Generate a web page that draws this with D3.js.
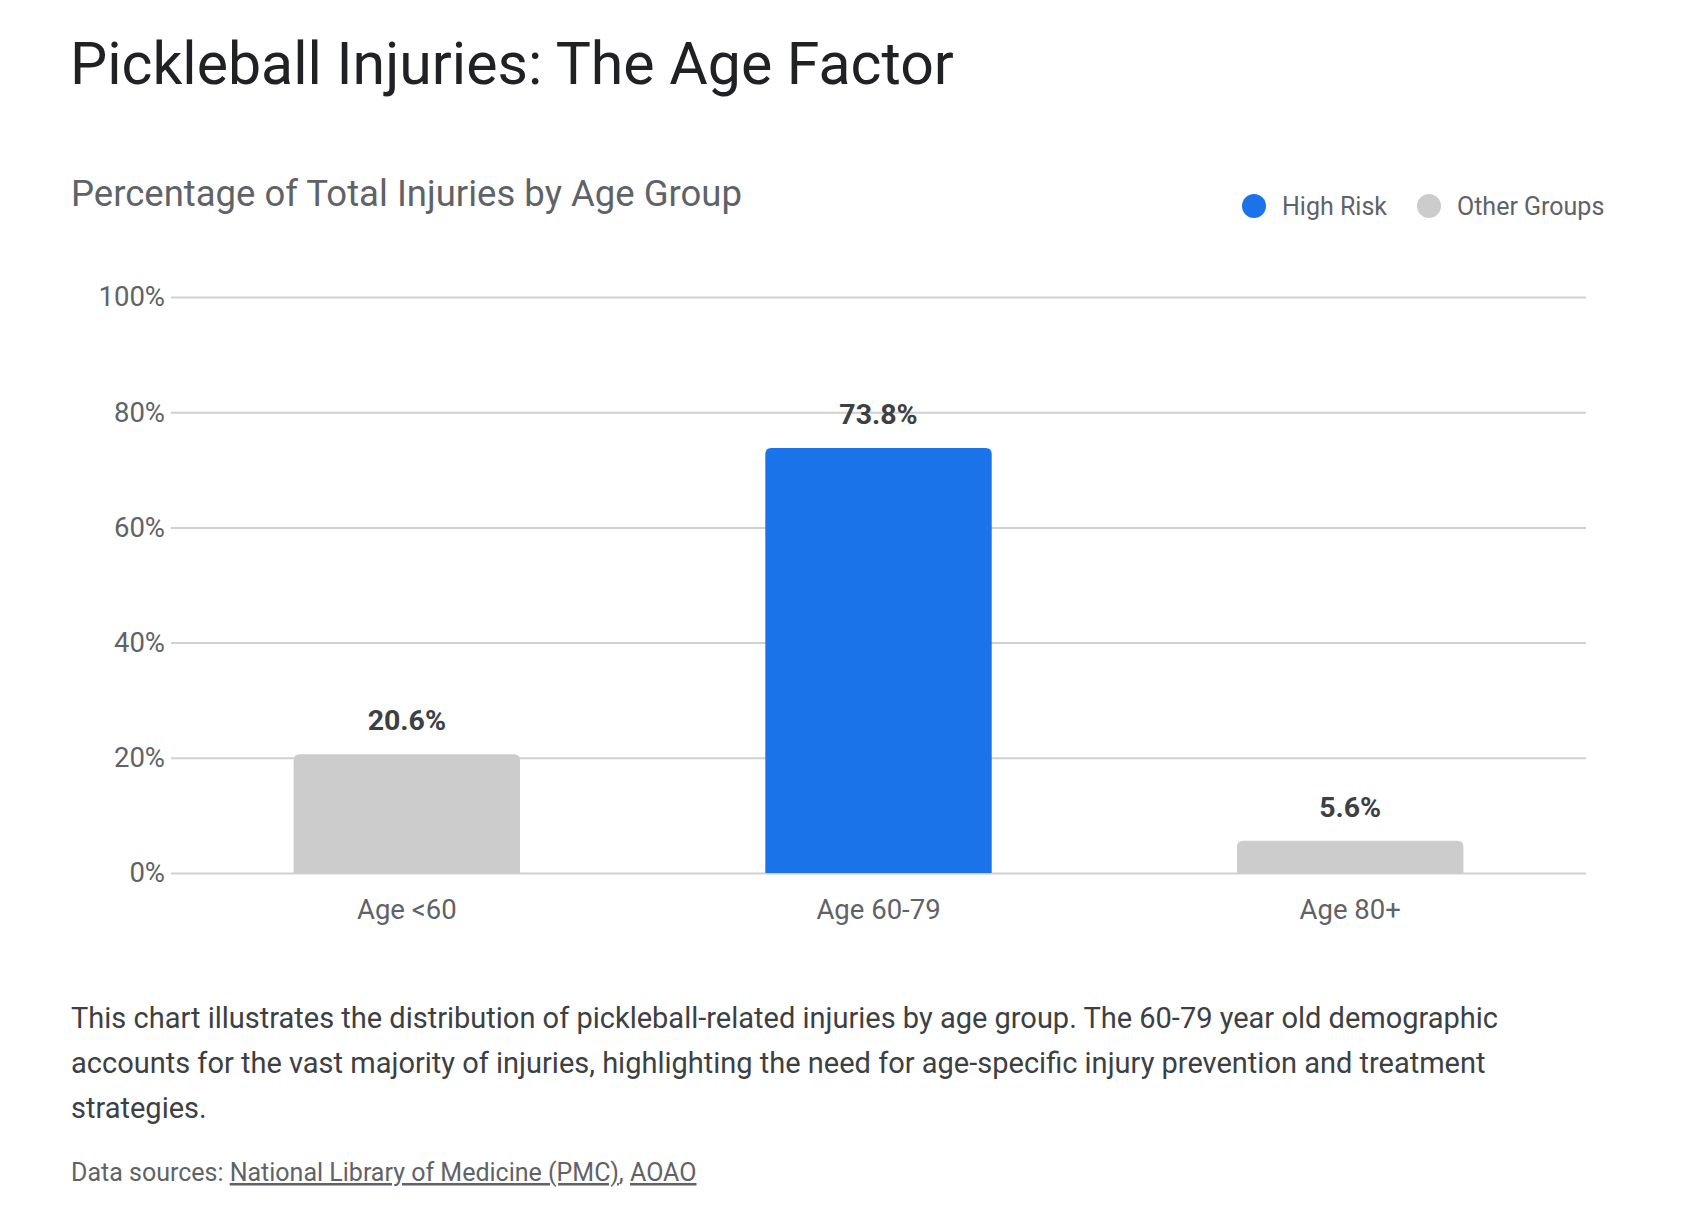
<!DOCTYPE html>
<html>
<head>
<meta charset="utf-8">
<script src="https://cdn.jsdelivr.net/npm/d3@7"></script>
<style>
  body { margin: 0; background: #ffffff; }
  svg text { font-family: Roboto, "Open Sans", sans-serif; }
</style>
</head>
<body>
<div id="chart"></div>
<script>
// chart data
var categories = ["Age <60", "Age 60-79", "Age 80+"];
var values = [20.6, 73.8, 5.6];
var groups = ["Other Groups", "High Risk", "Other Groups"];
var yTicks = [0, 20, 40, 60, 80, 100];
var legendItems = ["High Risk", "Other Groups"];

var colors = {"High Risk": "#1a73e8", "Other Groups": "#cccccc"};

var W = 1706, H = 1219;
var margin = {top: 297, right: 120, bottom: 346, left: 171};
var width = W - margin.left - margin.right;
var height = H - margin.top - margin.bottom;

var svg = d3.select("#chart").append("svg")
    .attr("width", W)
    .attr("height", H);

// titles
svg.append("text")
    .attr("x", 70).attr("y", 84)
    .attr("font-size", 59)
    .attr("fill", "#202124")
    .text("Pickleball Injuries: The Age Factor");

svg.append("text")
    .attr("x", 71).attr("y", 206)
    .attr("font-size", 36.5)
    .attr("fill", "#5f6368")
    .text("Percentage of Total Injuries by Age Group");

// legend
var legend = svg.append("g").attr("transform", "translate(1254,206)");
var lx = 0;
legendItems.forEach(function(name, i) {
  var item = legend.append("g").attr("transform", "translate(" + lx + ",0)");
  item.append("circle").attr("r", 12).attr("fill", colors[name]);
  var t = item.append("text")
      .attr("x", 28).attr("y", 8.5)
      .attr("font-size", 25)
      .attr("fill", "#5f6368")
      .text(name);
  lx += 28 + t.node().getComputedTextLength() + 42;
});

var g = svg.append("g")
    .attr("transform", "translate(" + margin.left + "," + margin.top + ")");

var x = d3.scaleBand().domain(categories).range([0, width])
    .paddingInner(0.52).paddingOuter(0.26);
var y = d3.scaleLinear().domain([0, 100]).range([height, 0]);

// gridlines + y labels
var yAxis = g.append("g")
    .call(d3.axisLeft(y).tickValues(yTicks).tickSize(-width).tickPadding(6)
      .tickFormat(function(d) { return d + "%"; }));
yAxis.select(".domain").remove();
yAxis.selectAll(".tick line").attr("stroke", "#d0d0d0").attr("stroke-width", 2);
yAxis.selectAll(".tick text")
    .attr("font-size", 27.5)
    .attr("fill", "#5f6368")
    .attr("font-family", "Roboto, sans-serif");

// bars with rounded top corners
var r = 6;
function barPath(d, i) {
  var x0 = x(categories[i]), bw = x.bandwidth();
  var y0 = y(d), y1 = y(0);
  return "M" + x0 + "," + y1 +
    "V" + (y0 + r) +
    "Q" + x0 + "," + y0 + " " + (x0 + r) + "," + y0 +
    "H" + (x0 + bw - r) +
    "Q" + (x0 + bw) + "," + y0 + " " + (x0 + bw) + "," + (y0 + r) +
    "V" + y1 + "Z";
}
g.selectAll(".bar").data(values).enter().append("path")
    .attr("class", "bar")
    .attr("d", barPath)
    .attr("fill", function(d, i) { return colors[groups[i]]; });

// value labels
g.selectAll(".val").data(values).enter().append("text")
    .attr("class", "val")
    .attr("x", function(d, i) { return x(categories[i]) + x.bandwidth() / 2; })
    .attr("y", function(d) { return y(d) - 24; })
    .attr("text-anchor", "middle")
    .attr("font-size", 28.5)
    .attr("font-weight", 700)
    .attr("fill", "#3c4043")
    .text(function(d) { return d + "%"; });

// x axis labels
var xAxis = g.append("g")
    .attr("transform", "translate(0," + height + ")")
    .call(d3.axisBottom(x).tickSize(0).tickPadding(26));
xAxis.select(".domain").remove();
xAxis.selectAll(".tick text")
    .attr("font-size", 27.5)
    .attr("fill", "#5f6368")
    .attr("font-family", "Roboto, sans-serif");

// description
var desc = [
  "This chart illustrates the distribution of pickleball-related injuries by age group. The 60-79 year old demographic",
  "accounts for the vast majority of injuries, highlighting the need for age-specific injury prevention and treatment",
  "strategies."
];
svg.append("g").selectAll("text").data(desc).enter().append("text")
    .attr("x", 71)
    .attr("y", function(d, i) { return 1028 + i * 44.8; })
    .attr("font-size", 29)
    .attr("fill", "#3c4043")
    .text(function(d) { return d; });

// sources
var src = svg.append("text")
    .attr("x", 71).attr("y", 1181)
    .attr("font-size", 25)
    .attr("fill", "#5f6368");
src.append("tspan").text("Data sources: ");
src.append("tspan").attr("text-decoration", "underline").text("National Library of Medicine (PMC)");
src.append("tspan").text(", ");
src.append("tspan").attr("text-decoration", "underline").text("AOAO");
</script>
</body>
</html>
